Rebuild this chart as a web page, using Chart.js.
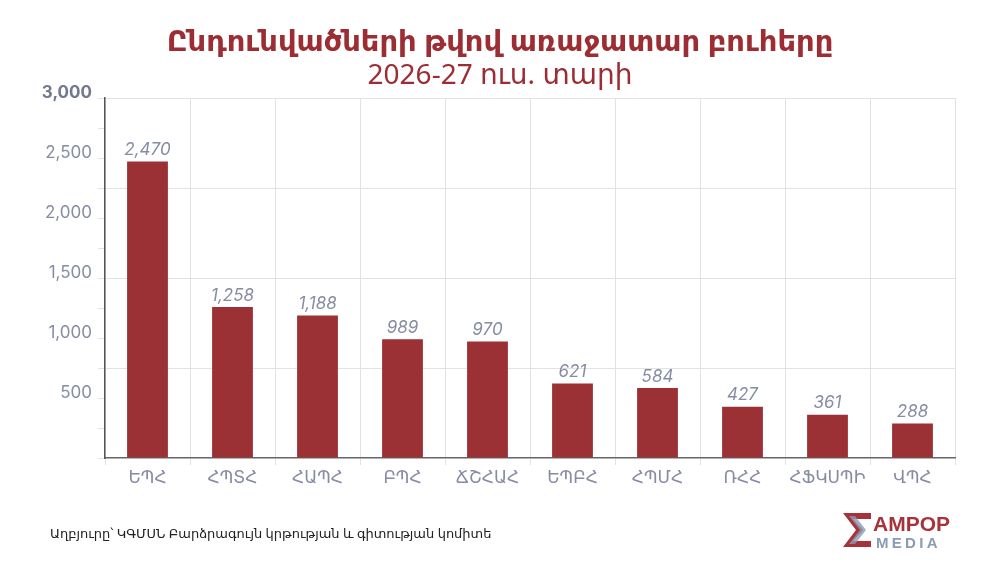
<!DOCTYPE html>
<html>
<head>
<meta charset="utf-8">
<script src="https://cdn.jsdelivr.net/npm/chart.js@4.4.1/dist/chart.umd.min.js"></script>
<style>
  html, body { margin: 0; padding: 0; background: #fff; }
  body { width: 1000px; height: 571px; position: relative; overflow: hidden; font-family: "Noto Sans", "DejaVu Sans", sans-serif; }
  #wrap { position: absolute; left: 0; top: 0; width: 1000px; height: 571px; }
  .title { position: absolute; left: 0; width: 1000px; text-align: center; color: #9b2d33; white-space: nowrap; }
  #t1 { top: 20px; font-size: 29px; font-weight: bold; }
  #t2 { top: 54px; font-size: 28px; }
  #src { position: absolute; left: 50px; top: 524px; font-size: 13px; color: #222; }
  #logo { position: absolute; left: 843px; top: 511px; width: 110px; height: 40px; }
</style>
</head>
<body>
<div id="wrap"><canvas id="c" width="1000" height="571"></canvas></div>
<div class="title" id="t1">Ընդունվածների թվով առաջատար բուհերը</div>
<div class="title" id="t2">2026-27 ուս. տարի</div>
<div id="src">Աղբյուրը՝ ԿԳՄՍՆ Բարձրագույն կրթության և գիտության կոմիտե</div>
<svg id="logo" viewBox="0 0 110 40" xmlns="http://www.w3.org/2000/svg">
  <polygon points="0,2 28,2 28,8 10,8 20,19 10,30 28,30 28,36 0,36 13,19" fill="#a8323a"/>
  <polygon points="6,5 12,5 23,19 12,33 6,33 17,19" fill="#8a9bb3" opacity="0.8"/>
  <text x="30" y="20" font-family="Liberation Sans, Arial, sans-serif" font-weight="bold" font-size="21" fill="#a8323a">AMPOP</text>
  <text x="33" y="37" font-family="Liberation Sans, Arial, sans-serif" font-weight="bold" font-size="15" letter-spacing="3.3" fill="#8a9bb3">MEDIA</text>
</svg>
<script>
const categories = ["ԵՊՀ", "ՀՊՏՀ", "ՀԱՊՀ", "ԲՊՀ", "ՃՇՀԱՀ", "ԵՊԲՀ", "ՀՊՄՀ", "ՌՀՀ", "ՀՖԿՍՊԻ", "ՎՊՀ"];
const admitted = [2470, 1258, 1188, 989, 970, 621, 584, 427, 361, 288];
const yTickLabels = [500, 1000, 1500, 2000, 2500, 3000];

const labelColor = "#868ca2";
const fmt = v => v.toLocaleString("en-US");

const valueLabels = {
  id: "valueLabels",
  afterDatasetsDraw(chart) {
    const ctx = chart.ctx;
    const meta = chart.getDatasetMeta(0);
    ctx.save();
    ctx.font = "italic 17px Inter, 'Noto Sans', sans-serif";
    ctx.fillStyle = labelColor;
    ctx.textAlign = "center";
    ctx.textBaseline = "bottom";
    meta.data.forEach((bar, i) => {
      ctx.fillText(fmt(chart.data.datasets[0].data[i]), bar.x, bar.y - 3);
    });
    ctx.restore();
  }
};

new Chart(document.getElementById("c"), {
  type: "bar",
  data: {
    labels: categories,
    datasets: [{
      data: admitted,
      backgroundColor: "#9b3035",
      borderWidth: 0,
      categoryPercentage: 0.8,
      barPercentage: 0.6
    }]
  },
  options: {
    responsive: false,
    animation: false,
    devicePixelRatio: 1,
    layout: { padding: { left: 0, right: 45, top: 98, bottom: 80 } },
    plugins: { legend: { display: false }, tooltip: { enabled: false } },
    scales: {
      x: {
        afterFit(s) { s.height = 33; },
        grid: { color: "#e2e2e2", lineWidth: 1, tickLength: 7, offset: true },
        border: { color: "#666", width: 1.5 },
        ticks: { color: labelColor, font: { size: 17, family: "'DejaVu Sans', sans-serif" }, padding: 3 }
      },
      y: {
        min: 0, max: 3000,
        afterFit(s) { s.width = 105; },
        grid: {
          color: c => (c.tick && c.tick.value % 750 === 0 && c.tick.value !== 0) ? "#e2e2e2" : "rgba(0,0,0,0)",
          tickColor: "#e2e2e2",
          tickLength: 7
        },
        border: { color: "#555", width: 1.5 },
        ticks: {
          stepSize: 250,
          color: c => c.tick.value === 3000 ? "#737a8f" : labelColor,
          font: c => ({ size: 17, family: "Inter, sans-serif", weight: c.tick && c.tick.value === 3000 ? "bold" : "normal" }),
          padding: 6,
          labelOffset: -5,
          callback: v => yTickLabels.includes(v) ? fmt(v) : ""
        }
      }
    }
  },
  plugins: [valueLabels]
});
</script>
</body>
</html>
